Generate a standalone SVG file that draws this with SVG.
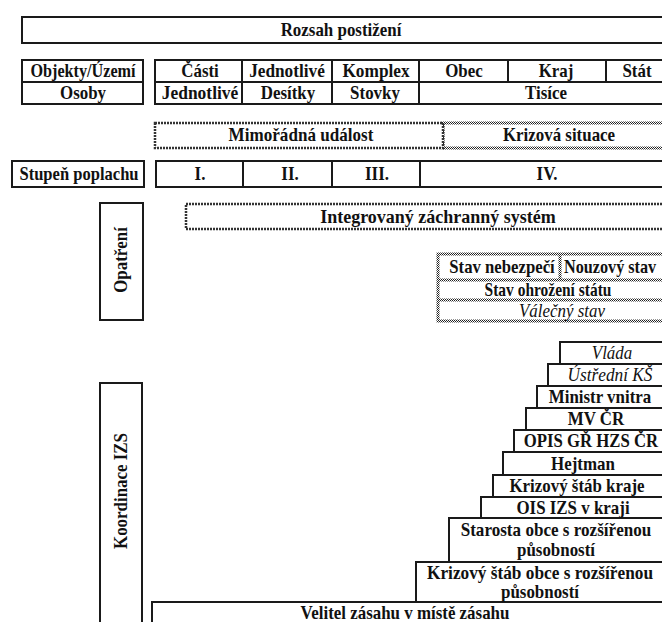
<svg xmlns="http://www.w3.org/2000/svg" width="662" height="622" viewBox="0 0 662 622" font-family="'Liberation Serif', 'DejaVu Serif', 'Times New Roman', serif">
<defs>
<pattern id="hatch" width="2" height="2" patternUnits="userSpaceOnUse">
<rect width="2" height="2" fill="#fff"/>
<rect width="1" height="1" fill="#222"/>
<rect x="1" y="1" width="1" height="1" fill="#222"/>
</pattern>
</defs>
<style>
text{font-family:'Liberation Serif','DejaVu Serif',serif;font-weight:bold;font-size:18px;fill:#111;text-anchor:middle}
.it{font-style:italic;font-weight:normal}
.b{fill:#fff;stroke:#1a1a1a;stroke-width:2}
.h{fill:#fff;stroke:url(#hatch);stroke-width:3}
.hd{fill:#fff;stroke:#333;stroke-width:2.5;stroke-dasharray:2 1}
.l{stroke:#1a1a1a;stroke-width:2;fill:none}
.lh{stroke:url(#hatch);stroke-width:3;fill:none}
</style>
<rect width="662" height="622" fill="#fff"/>
<g id="connectors"/>

<g id="rozsah">
<rect class="b" x="22" y="17" width="660" height="26"/>
<text transform="matrix(0.94 0 0 1 341 36)">Rozsah postižení</text>
</g>

<g id="kategorie">
<rect class="b" x="22" y="60" width="121" height="44"/>
<line class="l" x1="22" y1="82" x2="143" y2="82"/>
<text transform="matrix(0.9 0 0 1 83 77)">Objekty/Území</text>
<text transform="matrix(0.94 0 0 1 83 99)">Osoby</text>
</g>

<g id="rozsah-tabulka">
<rect class="b" x="155" y="60" width="520" height="44"/>
<line class="l" x1="155" y1="82" x2="675" y2="82"/>
<line class="l" x1="242" y1="60" x2="242" y2="104"/>
<line class="l" x1="332" y1="60" x2="332" y2="104"/>
<line class="l" x1="419" y1="60" x2="419" y2="104"/>
<line class="l" x1="508" y1="60" x2="508" y2="82"/>
<line class="l" x1="606" y1="60" x2="606" y2="82"/>
<text transform="matrix(0.94 0 0 1 200 77)">Části</text>
<text transform="matrix(0.96 0 0 1 287 77)">Jednotlivé</text>
<text transform="matrix(0.96 0 0 1 376 77)">Komplex</text>
<text transform="matrix(0.94 0 0 1 464 77)">Obec</text>
<text transform="matrix(0.94 0 0 1 556 77)">Kraj</text>
<text transform="matrix(0.94 0 0 1 637 77)">Stát</text>
<text transform="matrix(0.97 0 0 1 200 99)">Jednotlivé</text>
<text transform="matrix(0.94 0 0 1 288 99)">Desítky</text>
<text transform="matrix(0.94 0 0 1 375 99)">Stovky</text>
<text transform="matrix(0.94 0 0 1 546 99)">Tisíce</text>
</g>

<g id="krizova-situace">
<rect class="h" x="443" y="123" width="240" height="25"/>
<text transform="matrix(0.94 0 0 1 559 141)">Krizová situace</text>
</g>
<g id="mimoradna-udalost">
<rect class="hd" x="155" y="123" width="288" height="25"/>
<text transform="matrix(0.95 0 0 1 301 141)">Mimořádná událost</text>
</g>

<g id="stupen-poplachu">
<rect class="b" x="12" y="161" width="132" height="26"/>
<text transform="matrix(0.92 0 0 1 79 180)">Stupeň poplachu</text>
</g>

<g id="stupne">
<rect class="b" x="156" y="161" width="520" height="26"/>
<line class="l" x1="243" y1="161" x2="243" y2="187"/>
<line class="l" x1="332" y1="161" x2="332" y2="187"/>
<line class="l" x1="420" y1="161" x2="420" y2="187"/>
<text transform="matrix(0.94 0 0 1 200 180)">I.</text>
<text transform="matrix(0.94 0 0 1 290 180)">II.</text>
<text transform="matrix(0.94 0 0 1 377 180)">III.</text>
<text transform="matrix(0.94 0 0 1 547 180)">IV.</text>
</g>

<g id="opatreni">
<rect class="b" x="100" y="203" width="43" height="117"/>
<text transform="translate(127 260) rotate(-90) scale(0.94 1)">Opatření</text>
</g>

<g id="izs">
<rect class="hd" x="186" y="204" width="500" height="25"/>
<text transform="matrix(1 0 0 1 438 223)">Integrovaný záchranný systém</text>
</g>

<g id="stavy">
<rect class="h" x="438" y="254" width="240" height="67"/>
<line class="lh" x1="438" y1="280" x2="678" y2="280"/>
<line class="lh" x1="438" y1="300" x2="678" y2="300"/>
<line class="lh" x1="560" y1="254" x2="560" y2="280"/>
<text transform="matrix(0.93 0 0 1 502 273)">Stav nebezpečí</text>
<text transform="matrix(0.9 0 0 1 564 273)" style="text-anchor:start">Nouzový stav</text>
<text transform="matrix(0.86 0 0 1 548 296)">Stav ohrožení státu</text>
<text class="it" transform="matrix(0.94 0 0 1 562 317)">Válečný stav</text>
</g>

<g id="koordinace">
<rect class="b" x="100" y="383" width="42" height="242"/>
<text transform="translate(127 491) rotate(-90) scale(0.94 1)">Koordinace IZS</text>
</g>

<g id="velitel">
<rect class="b" x="152" y="602" width="520" height="24"/>
<text transform="matrix(0.94 0 0 1 405 619)">Velitel zásahu v místě zásahu</text>
</g>
<g id="ks-obce">
<rect class="b" x="416" y="562" width="260" height="40"/>
<text transform="matrix(0.96 0 0 1 540 579)">Krizový štáb obce s rozšířenou</text>
<text transform="matrix(0.94 0 0 1 540 598)">působností</text>
</g>
<g id="starosta">
<rect class="b" x="449" y="518" width="230" height="44"/>
<text transform="matrix(0.95 0 0 1 556 536)">Starosta obce s rozšířenou</text>
<text transform="matrix(0.94 0 0 1 556 556)">působností</text>
</g>
<g id="ois-izs">
<rect class="b" x="481" y="497" width="200" height="21"/>
<text transform="matrix(0.94 0 0 1 573 514)">OIS IZS v kraji</text>
</g>
<g id="ks-kraje">
<rect class="b" x="493" y="475" width="200" height="22"/>
<text transform="matrix(0.94 0 0 1 577 492)">Krizový štáb kraje</text>
</g>
<g id="hejtman">
<rect class="b" x="503" y="452" width="200" height="23"/>
<text transform="matrix(0.94 0 0 1 583 470)">Hejtman</text>
</g>
<g id="opis">
<rect class="b" x="514" y="430" width="200" height="22"/>
<text transform="matrix(0.93 0 0 1 591 447)">OPIS GŘ HZS ČR</text>
</g>
<g id="mv-cr">
<rect class="b" x="526" y="408" width="200" height="22"/>
<text transform="matrix(0.94 0 0 1 596 425)">MV ČR</text>
</g>
<g id="ministr">
<rect class="b" x="537" y="386" width="200" height="22"/>
<text transform="matrix(0.94 0 0 1 600 403)">Ministr vnitra</text>
</g>
<g id="ustredni-ks">
<rect class="b" x="548" y="364" width="200" height="22"/>
<text class="it" transform="matrix(0.96 0 0 1 610 381)">Ústřední KŠ</text>
</g>
<g id="vlada">
<rect class="b" x="560" y="342" width="200" height="22"/>
<text class="it" transform="matrix(0.94 0 0 1 612 359)">Vláda</text>
</g>
</svg>
